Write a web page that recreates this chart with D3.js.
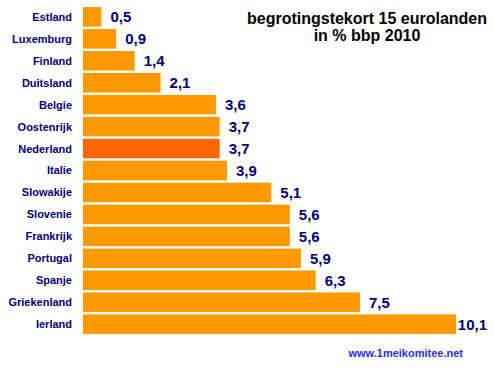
<!DOCTYPE html>
<html>
<head>
<meta charset="utf-8">
<script src="https://cdnjs.cloudflare.com/ajax/libs/d3/7.8.5/d3.min.js"></script>
<style>
  body { margin: 0; background: #fff; }
  text { font-family: Arial, "Liberation Sans", sans-serif; font-weight: bold; }
</style>
</head>
<body>
<div id="chart"></div>
<script>
// data
let countries = ["Estland", "Luxemburg", "Finland", "Duitsland", "Belgie", "Oostenrijk", "Nederland",
  "Italie", "Slowakije", "Slovenie", "Frankrijk", "Portugal", "Spanje", "Griekenland", "Ierland"];
let deficits = [0.5, 0.9, 1.4, 2.1, 3.6, 3.7, 3.7, 3.9, 5.1, 5.6, 5.6, 5.9, 6.3, 7.5, 10.1];
let highlight = "Nederland";
let titleLines = ["begrotingstekort 15 eurolanden", "in % bbp 2010"];
let source = "www.1meikomitee.net";

let width = 494;
let height = 371;

var svg = d3.select("#chart")
  .append("svg")
  .attr("width", width)
  .attr("height", height);

let x = d3.scaleLinear().domain([0, 10.1]).range([83, 456]);
let y = d3.scaleBand().domain(countries).range([6, 335]).paddingInner(0.11).paddingOuter(0.05);

let rows = countries.map(function(c, i) { return {name: c, value: deficits[i]}; });

svg.selectAll("rect.bar")
  .data(rows)
  .enter()
  .append("rect")
  .attr("class", "bar")
  .attr("x", x(0))
  .attr("y", d => y(d.name))
  .attr("width", d => x(d.value) - x(0))
  .attr("height", y.bandwidth())
  .attr("fill", d => d.name == highlight ? "#ff6600" : "#ff9900");

//country labels
svg.selectAll("text.cat")
  .data(rows)
  .enter()
  .append("text")
  .attr("class", "cat")
  .attr("x", 72)
  .attr("y", d => y(d.name) + y.bandwidth() / 2)
  .attr("dy", "0.36em")
  .style("text-anchor", "end")
  .style("font-size", "11px")
  .attr("fill", "#000080")
  .text(d => d.name);

//value labels, pulled in when they would run off the right edge
svg.selectAll("text.val")
  .data(rows)
  .enter()
  .append("text")
  .attr("class", "val")
  .attr("x", d => x(d.value) + 9)
  .attr("y", d => y(d.name) + y.bandwidth() / 2)
  .attr("dy", "0.36em")
  .style("font-size", "15px")
  .attr("fill", "#000080")
  .text(d => d.value.toFixed(1).replace(".", ","))
  .each(function(d) {
    let w = this.getComputedTextLength();
    let xPos = Math.min(x(d.value) + 9, width - 7 - w);
    d3.select(this).attr("x", xPos);
  });

//title
svg.selectAll("text.title")
  .data(titleLines)
  .enter()
  .append("text")
  .attr("class", "title")
  .attr("x", 367)
  .attr("y", (d, i) => 24 + i * 17)
  .style("text-anchor", "middle")
  .style("font-size", "16px")
  .attr("fill", "#000")
  .text(d => d);

svg.append("text")
  .attr("x", 463)
  .attr("y", 357)
  .style("text-anchor", "end")
  .style("font-size", "11px")
  .attr("fill", "#2a2aff")
  .text(source);
</script>
</body>
</html>
